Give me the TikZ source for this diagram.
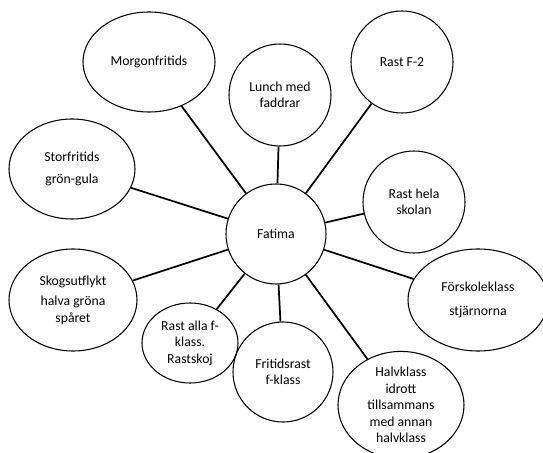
\documentclass[tikz,border=0pt]{standalone}
\usepackage{fontspec}
\setmainfont{Carlito}
\usepackage{tikz}
\usetikzlibrary{shapes.geometric}
\tikzset{bubble/.style 2 args={ellipse, draw=black, line width=0.8pt, align=center, minimum width=#1*1.5pt, minimum height=#2*1.5pt}}
\tikzset{spoke/.style={black, line width=1.3pt}}

\begin{document}
\begin{tikzpicture}[x=0.75pt,y=-0.75pt]
	\tikzstyle{every node}+=[inner sep=0pt, font=\fontsize{10.3}{12.4}\selectfont]
	\useasboundingbox (0,0) rectangle (543,453);
	\fill [white] (0,0) rectangle (543,453);
	\node [bubble={50}{50}] (fatima) at (276,234) {Fatima};
	\node [bubble={66}{50}] (morgon) at (149,62) {Morgonfritids};
	\node [bubble={51}{51}] (lunch) at (280,95) {Lunch med\\faddrar};
	\node [bubble={51}{51}] (rastF) at (402,62) {Rast F-2};
	\node [bubble={63}{50}] (storfritids) at (72,169) {Storfritids\\[4pt]grön-gula};
	\node [bubble={51}{51}] (rastHela) at (414,202) {Rast hela\\skolan};
	\node [bubble={70}{51}] (forskole) at (478,300) {Förskoleklass\\[5pt]stjärnorna};
	\node [bubble={64}{51}] (skog) at (73,300) {Skogsutflykt\\[3pt]halva gröna\\spåret};
	\node [bubble={48}{40}] (rastAlla) at (190,343) {Rast alla f-\\klass.\\Rastskoj};
	\node [bubble={50}{50}] (fritidsrast) at (283,372) {Fritidsrast\\f-klass};
	\node [bubble={63}{49}] (halvklass) at (401,405) {Halvklass\\idrott\\tillsammans\\med annan\\halvklass};
	\draw [spoke] (fatima) -- (morgon);
	\draw [spoke] (fatima) -- (lunch);
	\draw [spoke] (fatima) -- (rastF);
	\draw [spoke] (fatima) -- (storfritids);
	\draw [spoke] (fatima) -- (rastHela);
	\draw [spoke] (fatima) -- (forskole);
	\draw [spoke] (fatima) -- (skog);
	\draw [spoke] (fatima) -- (rastAlla);
	\draw [spoke] (fatima) -- (fritidsrast);
	\draw [spoke] (fatima) -- (halvklass);
	%\draw [spoke] (fatima) -- (lunch.south);
\end{tikzpicture}
\end{document}
